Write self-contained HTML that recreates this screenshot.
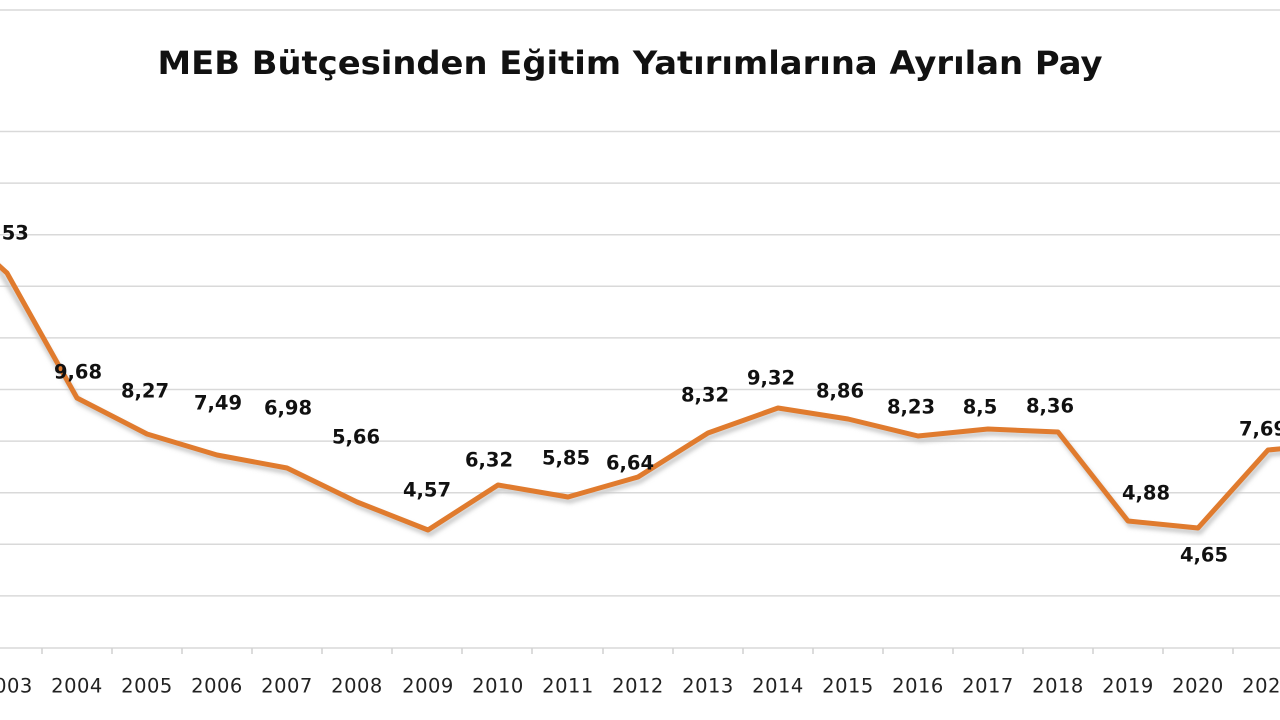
<!DOCTYPE html>
<html><head><meta charset="utf-8"><style>
html,body{margin:0;padding:0;background:#fff;width:1280px;height:720px;overflow:hidden}
</style></head><body>
<svg width="1280" height="720" viewBox="0 0 1280 720" xmlns="http://www.w3.org/2000/svg">
<defs><filter id="sh" x="-5%" y="-5%" width="110%" height="120%"><feGaussianBlur stdDeviation="2"/></filter></defs>
<g stroke="#d9d9d9" stroke-width="1.5">
<line x1="0" y1="10" x2="1280" y2="10"/>
<line x1="0" y1="131.5" x2="1280" y2="131.5"/>
<line x1="0" y1="183.1" x2="1280" y2="183.1"/>
<line x1="0" y1="234.7" x2="1280" y2="234.7"/>
<line x1="0" y1="286.3" x2="1280" y2="286.3"/>
<line x1="0" y1="337.9" x2="1280" y2="337.9"/>
<line x1="0" y1="389.5" x2="1280" y2="389.5"/>
<line x1="0" y1="441.1" x2="1280" y2="441.1"/>
<line x1="0" y1="492.7" x2="1280" y2="492.7"/>
<line x1="0" y1="544.3" x2="1280" y2="544.3"/>
<line x1="0" y1="595.9" x2="1280" y2="595.9"/>
<line x1="0" y1="648" x2="1280" y2="648"/>
</g>
<g stroke="#d0d0d0" stroke-width="1.5">
<line x1="42" y1="648" x2="42" y2="654"/><line x1="112" y1="648" x2="112" y2="654"/><line x1="182" y1="648" x2="182" y2="654"/><line x1="252" y1="648" x2="252" y2="654"/><line x1="322" y1="648" x2="322" y2="654"/><line x1="392" y1="648" x2="392" y2="654"/><line x1="462" y1="648" x2="462" y2="654"/><line x1="532" y1="648" x2="532" y2="654"/><line x1="603" y1="648" x2="603" y2="654"/><line x1="673" y1="648" x2="673" y2="654"/><line x1="743" y1="648" x2="743" y2="654"/><line x1="813" y1="648" x2="813" y2="654"/><line x1="883" y1="648" x2="883" y2="654"/><line x1="953" y1="648" x2="953" y2="654"/><line x1="1023" y1="648" x2="1023" y2="654"/><line x1="1093" y1="648" x2="1093" y2="654"/><line x1="1163" y1="648" x2="1163" y2="654"/><line x1="1233" y1="648" x2="1233" y2="654"/>
</g>
<polyline filter="url(#sh)" fill="none" stroke="#c8c8c8" stroke-width="5" transform="translate(2,4)"
points="-5,262 77,398 147,434 217,455 287,468 357,502 428,530 498,485 568,497 638,477 708,433 778,408 848,419 918,436 988,429 1058,432 1128,521 1198,528 1268,450 1290,448"/>
<polyline fill="none" stroke="#e07b2e" stroke-width="5" stroke-linejoin="round"
points="-5,262 7,273 77,398 147,434 217,455 287,468 357,502 428,530 498,485 568,497 638,477 708,433 778,408 848,419 918,436 988,429 1058,432 1128,521 1198,528 1268,450 1290,448"/>
<text x="630" y="74" text-anchor="middle" font-family="'DejaVu Sans','Liberation Sans',sans-serif" font-weight="bold" font-size="32" textLength="945" lengthAdjust="spacingAndGlyphs" fill="#111">MEB Bütçesinden Eğitim Yatırımlarına Ayrılan Pay</text>
<g font-family="'DejaVu Sans','Liberation Sans',sans-serif" font-weight="bold" font-size="19.5" fill="#111" text-anchor="middle" dominant-baseline="middle">
<text x="-2" y="234">14,53</text>
<text x="78" y="373">9,68</text>
<text x="145" y="392">8,27</text>
<text x="218" y="404">7,49</text>
<text x="288" y="409">6,98</text>
<text x="356" y="438">5,66</text>
<text x="427" y="491">4,57</text>
<text x="489" y="461">6,32</text>
<text x="566" y="459">5,85</text>
<text x="630" y="464">6,64</text>
<text x="705" y="396">8,32</text>
<text x="771" y="379">9,32</text>
<text x="840" y="392">8,86</text>
<text x="911" y="408">8,23</text>
<text x="980" y="408">8,5</text>
<text x="1050" y="407">8,36</text>
<text x="1146" y="494">4,88</text>
<text x="1204" y="556">4,65</text>
<text x="1263" y="430">7,69</text>
</g>
<g font-family="'DejaVu Sans','Liberation Sans',sans-serif" font-size="19.5" letter-spacing="0.5" fill="#222" text-anchor="middle" dominant-baseline="middle">
<text x="7" y="687">2003</text><text x="77" y="687">2004</text><text x="147" y="687">2005</text><text x="217" y="687">2006</text><text x="287" y="687">2007</text><text x="357" y="687">2008</text><text x="428" y="687">2009</text><text x="498" y="687">2010</text><text x="568" y="687">2011</text><text x="638" y="687">2012</text><text x="708" y="687">2013</text><text x="778" y="687">2014</text><text x="848" y="687">2015</text><text x="918" y="687">2016</text><text x="988" y="687">2017</text><text x="1058" y="687">2018</text><text x="1128" y="687">2019</text><text x="1198" y="687">2020</text><text x="1268" y="687">2021</text>
</g>
</svg>
</body></html>
